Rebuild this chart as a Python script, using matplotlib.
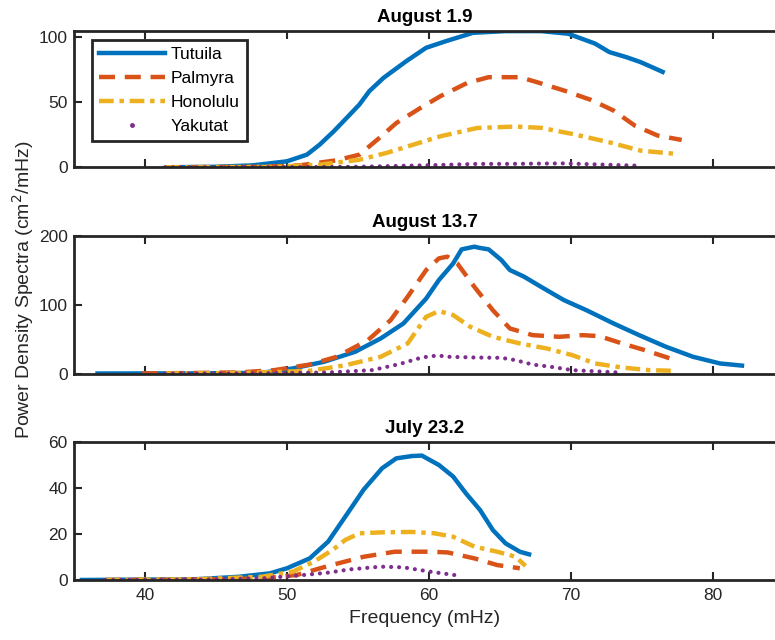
import matplotlib
matplotlib.use("Agg")
import matplotlib.pyplot as plt
from matplotlib.lines import Line2D

# Colores por defecto de MATLAB
c_tut = '#0072BD'
c_pal = '#D95319'
c_hon = '#EDB120'
c_yak = '#7E2F8E'
gris = '#262626'

stations = ['Tutuila', 'Palmyra', 'Honolulu', 'Yakutat']

# --- August 1.9 ---
f_a1_tut = [41.4, 45.0, 47.6, 50.0, 51.4, 52.3, 53.3, 54.2, 55.1, 55.8, 56.8, 58.4, 59.8, 61.2, 63.1, 65.4, 67.9, 69.8, 71.7, 72.7, 73.9, 74.9, 76.6]
p_a1_tut = [0, 0.4, 1.5, 4.6, 9.7, 17.4, 27.7, 37.9, 48.2, 58.5, 68.7, 81.5, 91.8, 96.9, 103.3, 104.6, 104.6, 102.6, 95, 88.5, 84.6, 80.8, 72.6]
f_a1_pal = [41.4, 48.0, 50.9, 53.5, 55.1, 56.5, 57.7, 59.4, 60.8, 62.7, 64.2, 66.4, 67.6, 69.5, 71.4, 73.0, 74.5, 76.1, 77.8]
p_a1_pal = [0, 0.3, 1.5, 5.4, 9.7, 22.5, 34, 45.6, 54.6, 64.8, 69.2, 69.2, 65.4, 59, 51.8, 43.6, 32, 24.4, 21]
f_a1_hon = [41.4, 49.0, 52.3, 55.1, 57.0, 58.9, 60.8, 63.4, 66.1, 67.9, 70.1, 72.7, 74.9, 77.4]
p_a1_hon = [0, 0.3, 2, 5.8, 11, 17.4, 23.8, 30.2, 31.3, 30.3, 25.6, 19.2, 12.8, 10.3]
f_a1_yak = [41.4, 50.0, 55.0, 59.8, 63.4, 65.4, 69.5, 74.5]
p_a1_yak = [0, 0.1, 0.4, 1.5, 2.6, 2.6, 3.0, 1.3]

# --- August 13.7 ---
f_a13_tut = [36.5, 44.0, 48.2, 50.4, 52.6, 54.8, 56.6, 58.2, 59.8, 60.7, 61.7, 62.3, 63.2, 63.5, 64.2, 65.1, 65.7, 66.7, 67.9, 69.5, 71.1, 73.0, 74.8, 76.7, 78.6, 80.5, 82.2]
p_a13_tut = [0, 0.2, 1, 7.3, 17, 31.6, 51, 72.8, 109, 136, 160, 180.6, 184.5, 183, 180.6, 165, 150.5, 140.8, 126, 106.8, 92, 72.8, 55.8, 38.8, 24.3, 14.6, 11.2]
f_a13_pal = [39.8, 46.6, 49.1, 51.6, 53.5, 55.7, 57.3, 58.5, 59.8, 60.7, 61.3, 62.0, 63.2, 64.5, 65.7, 67.3, 69.2, 70.8, 72.0, 73.6, 75.2, 77.0]
p_a13_pal = [0, 1.5, 4.9, 13, 24.3, 48.5, 77.7, 111.7, 150.5, 167.5, 170, 160, 126, 92, 65.5, 55.8, 53.4, 55.8, 54.4, 43.7, 34, 21.8]
f_a13_hon = [41.4, 47.0, 51.6, 54.1, 56.6, 58.5, 59.8, 60.7, 61.7, 62.9, 64.5, 66.4, 68.3, 70.1, 71.7, 73.6, 75.5, 77.2]
p_a13_hon = [0, 0.8, 3.9, 12, 24.3, 43.7, 82.5, 90.8, 85, 68, 53.4, 43.7, 36.4, 26.7, 14.6, 8.7, 4.9, 3.9]
f_a13_yak = [41.4, 48.0, 52.9, 56.0, 57.9, 59.5, 60.6, 61.4, 63.2, 65.1, 66.1, 67.3, 68.6, 70.1, 73.3]
p_a13_yak = [0, 0.3, 1.5, 4.9, 13.6, 23.3, 26.2, 24.3, 23.3, 22.8, 19.4, 13, 9.7, 4.9, 1.5]

# --- July 23.2 ---
f_j23_tut = [35.4, 43.5, 46.6, 48.8, 50.0, 51.6, 52.9, 54.1, 55.4, 56.7, 57.7, 58.8, 59.5, 60.7, 61.7, 62.6, 63.6, 64.5, 65.4, 66.4, 67.2]
p_j23_tut = [0, 0.3, 1.4, 2.9, 5.1, 9.4, 16.7, 27.5, 39.3, 48.6, 52.9, 53.9, 54.1, 50, 45, 37.7, 30.4, 21.7, 15.9, 12.3, 10.9]
f_j23_pal = [37.2, 44.0, 48.2, 50.7, 52.9, 55.4, 57.6, 60.1, 61.3, 63.2, 64.8, 66.4]
p_j23_pal = [0, 0.2, 0.7, 2.2, 6.1, 10.1, 12.3, 12.3, 12, 9.4, 6.5, 5.1]
f_j23_hon = [37.2, 43.5, 48.2, 50.4, 51.9, 53.2, 54.1, 55.1, 56.6, 58.8, 60.4, 61.7, 63.2, 64.8, 66.1, 66.8]
p_j23_hon = [0, 0.3, 1.4, 3.6, 8, 13, 17.4, 20.3, 20.7, 20.9, 20.3, 18.8, 14.5, 12.3, 10.1, 6.1]
f_j23_yak = [37.2, 44.0, 48.2, 50.7, 52.9, 54.4, 56.6, 58.2, 60.1, 62.1]
p_j23_yak = [0, 0.2, 0.7, 1.9, 3.2, 4.6, 5.8, 5.5, 3.6, 1.9]

titles = ['August 1.9', 'August 13.7', 'July 23.2']
ylims = [105, 200, 60]
yticks = [[0, 50, 100], [0, 100, 200], [0, 20, 40, 60]]
xticks = [40, 50, 60, 70, 80]

paneles = [
    [(f_a1_tut, p_a1_tut), (f_a1_pal, p_a1_pal), (f_a1_hon, p_a1_hon), (f_a1_yak, p_a1_yak)],
    [(f_a13_tut, p_a13_tut), (f_a13_pal, p_a13_pal), (f_a13_hon, p_a13_hon), (f_a13_yak, p_a13_yak)],
    [(f_j23_tut, p_j23_tut), (f_j23_pal, p_j23_pal), (f_j23_hon, p_j23_hon), (f_j23_yak, p_j23_yak)],
]

plt.rcParams['font.family'] = ['Liberation Sans', 'DejaVu Sans']

fig = plt.figure(figsize=(7.75, 6.4), dpi=100)

# Posiciones de los tres ejes (fracción de figura)
pos = [[0.0955, 0.7386, 0.9045, 0.2136],
       [0.0955, 0.4164, 0.9045, 0.2148],
       [0.0955, 0.09375, 0.9045, 0.2156]]

lw = 3.2
estilo_pal = (0, (3.6, 2.2))
estilo_hon = (0, (3.3, 1.3, 1.0, 1.3))

for i, datos in enumerate(paneles):
    ax = fig.add_axes(pos[i])
    (ft, pt), (fp, pp), (fh, ph), (fy, py) = datos
    ax.plot(ft, pt, color=c_tut, lw=lw, solid_capstyle='butt')
    ax.plot(fp, pp, color=c_pal, lw=lw, linestyle=estilo_pal)
    ax.plot(fh, ph, color=c_hon, lw=lw, linestyle=estilo_hon)
    ax.plot(fy, py, color=c_yak, lw=3.0, linestyle=(0, (0.01, 1.9)),
            dash_capstyle='round')

    ax.set_xlim(35, 84.37)
    ax.set_ylim(0, ylims[i])
    ax.set_xticks(xticks)
    ax.set_yticks(yticks[i])
    ax.tick_params(direction='in', length=6, width=1.5, colors=gris,
                   labelsize=12.5, top=True, right=False)
    ax.tick_params(axis='y', pad=4.5)
    ax.tick_params(axis='x', pad=6)
    if i < 2:
        ax.set_xticklabels([])
    for s in ['left', 'bottom', 'top']:
        ax.spines[s].set_linewidth(2.0)
        ax.spines[s].set_color(gris)
    ax.spines['right'].set_visible(False)
    ax.set_title(titles[i], fontsize=13.5, fontweight='bold', pad=6.5)

    if i == 0:
        handles = [
            Line2D([], [], color=c_tut, lw=lw),
            Line2D([], [], color=c_pal, lw=lw, linestyle=estilo_pal),
            Line2D([], [], color=c_hon, lw=lw, linestyle=estilo_hon),
            Line2D([], [], color=c_yak, lw=0, marker='.', markersize=5),
        ]
        leg = ax.legend(handles, stations, loc='upper left',
                        bbox_to_anchor=(0.025, 0.931), borderaxespad=0,
                        fancybox=False, framealpha=1, fontsize=12.5,
                        handlelength=3.8, handletextpad=0.36,
                        labelspacing=0.5, borderpad=0.42)
        leg.get_frame().set_edgecolor(gris)
        leg.get_frame().set_linewidth(2.0)
    if i == 2:
        ax.set_xlabel('Frequency (mHz)', fontsize=14, color=gris, labelpad=5)

fig.text(0.030, 0.547, 'Power Density Spectra (cm$^2$/mHz)', rotation=90,
         ha='center', va='center', fontsize=14, color=gris)

fig.savefig('out.png', dpi=100)
